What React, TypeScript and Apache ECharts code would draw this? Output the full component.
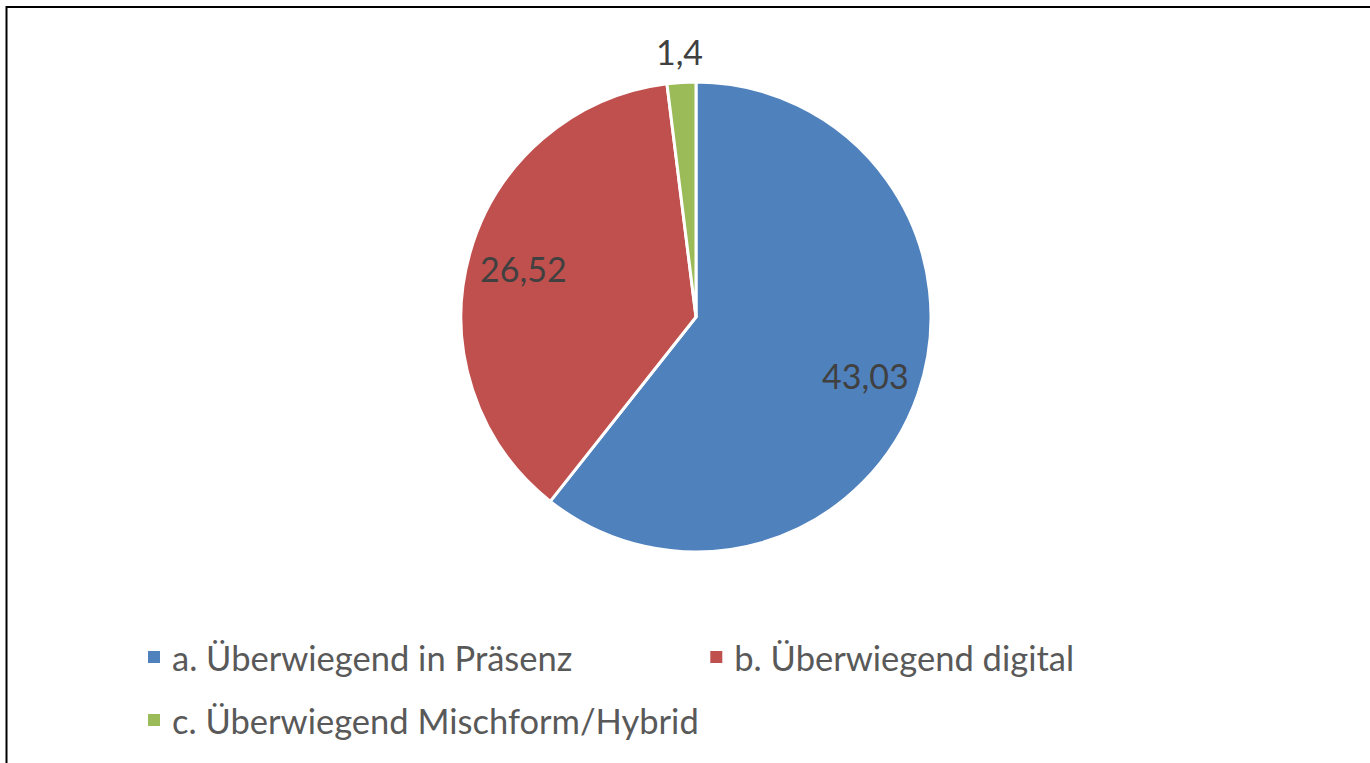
import React, { useEffect, useRef } from "react";
import * as echarts from "echarts";

const categories = [
  "a. Überwiegend in Präsenz",
  "b. Überwiegend digital",
  "c. Überwiegend Mischform/Hybrid",
];
const values = [43.03, 26.52, 1.4];
const colors = ["#4F81BD", "#C0504D", "#9BBB59"];
// which slices carry an inner label vs. an outer label
const innerLabel = [true, true, false];
const outerLabel = [false, false, true];

const FONT = "Lato, 'Open Sans', sans-serif";
const fmt = (v: number) => String(v).replace(".", ",");

export default function App() {
  const ref = useRef<HTMLDivElement>(null);
  useEffect(() => {
    if (!ref.current) return;
    const chart = echarts.init(ref.current, undefined, { renderer: "svg" });
    const center = [696, 317];
    const R = 235;
    const labelStyle = {
      position: "inside",
      color: "#404040",
      fontFamily: FONT,
      fontSize: 34,
      formatter: (p: any) => fmt(p.value),
    };
    const overlay = (radius: number, show: boolean[]) => ({
      type: "pie",
      center,
      radius: [0, radius],
      startAngle: 90,
      clockwise: true,
      silent: true,
      avoidLabelOverlap: false,
      itemStyle: { color: "transparent", borderWidth: 0 },
      emphasis: { disabled: true },
      labelLine: { show: false },
      data: categories.map((c, i) => ({
        name: c,
        value: values[i],
        label: { show: show[i], ...labelStyle },
      })),
      z: 3,
    });
    const legendText = {
      color: "#595959",
      fontFamily: FONT,
      fontSize: 34.5,
      lineHeight: 40,
      padding: [0, 0, 0, 6],
    };
    chart.setOption({
      animation: false,
      backgroundColor: "#ffffff",
      color: colors,
      graphic: [
        {
          type: "rect",
          shape: { x: 6.5, y: 7, width: 2000, height: 2000 },
          style: { fill: "none", stroke: "#000000", lineWidth: 2 },
          silent: true,
        },
      ],
      legend: [
        {
          data: categories.slice(0, 2),
          left: 146,
          top: 637,
          padding: 0,
          orient: "horizontal",
          icon: "rect",
          itemWidth: 14,
          itemHeight: 14,
          itemGap: 136,
          selectedMode: false,
          textStyle: legendText,
        },
        {
          data: categories.slice(2),
          left: 146,
          top: 700,
          padding: 0,
          orient: "horizontal",
          icon: "rect",
          itemWidth: 14,
          itemHeight: 14,
          selectedMode: false,
          textStyle: legendText,
        },
      ],
      series: [
        {
          type: "pie",
          center,
          radius: [0, R],
          startAngle: 90,
          clockwise: true,
          silent: true,
          itemStyle: { borderColor: "#ffffff", borderWidth: 3 },
          emphasis: { disabled: true },
          label: { show: false },
          labelLine: { show: false },
          data: categories.map((c, i) => ({
            name: c,
            value: values[i],
            itemStyle: { color: colors[i] },
          })),
        },
        overlay(R * 1.5, innerLabel),
        overlay(R * 2.24, outerLabel),
      ],
    });
    return () => chart.dispose();
  }, []);
  return (
    <div
      ref={ref}
      style={{ position: "fixed", left: 0, top: 0, width: 1370, height: 763 }}
    />
  );
}
